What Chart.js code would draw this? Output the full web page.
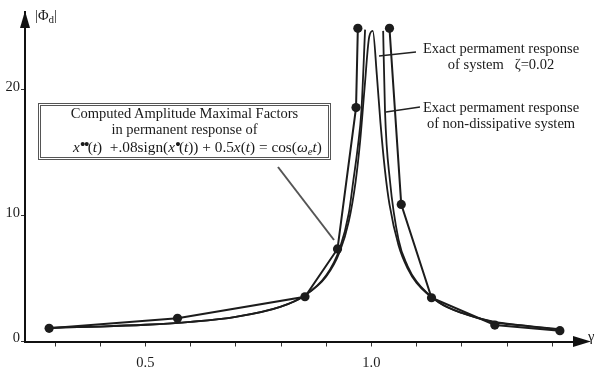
<!DOCTYPE html>
<html lang="en">
<head>
<meta charset="UTF-8">
<script src="https://cdn.jsdelivr.net/npm/chart.js"></script>
<style>
  body { margin: 0; background: #fff; }
  #wrap { position: relative; width: 596px; height: 367px; font-family: "Liberation Serif", "Times New Roman", serif; color: #1a1a1a; }
  #chart { position: absolute; left: 0; top: 0; }
  .note { position: absolute; font-size: 14.5px; line-height: 16px; white-space: nowrap; text-align: center; }
  #box { position: absolute; left: 38px; top: 103px; width: 287px; height: 51px; border: 3px double #555; }
  .dots { font-size: 17px; vertical-align: 2px; line-height: 0; letter-spacing: -2px; }
  sub { font-size: 11px; vertical-align: -3px; line-height: 0; }
</style>
</head>
<body>
<div id="wrap">
  <canvas id="chart" width="596" height="367"></canvas>
  <div id="box"></div>
  <div class="note" style="left:38px; top:105px; width:293px;">Computed Amplitude Maximal Factors<br>in permanent response of</div>
  <div class="note" style="left:73px; top:139px; font-size:15.3px;"><i>x</i><span class="dots">••</span>(<i>t</i>)&nbsp; +.08sign(<i>x</i><span class="dots">•</span>(<i>t</i>)) + 0.5<i>x</i>(<i>t</i>) = cos(<i>ω<sub>e</sub>t</i>)</div>
  <div class="note" style="left:421px; top:40px; width:160px;">Exact permament response<br>of system&nbsp;&nbsp; ζ=0.02</div>
  <div class="note" style="left:421px; top:99px; width:160px;">Exact permament response<br>of non-dissipative system</div>
  <div class="note" style="left:35px; top:7px;">|Φ<sub>d</sub>|</div>
  <div class="note" style="left:588px; top:328px;">γ</div>
</div>
<script>
// computed amplitude maximal factors (dots)
const gammaComputed = [0.287, 0.571, 0.853, 0.925, 0.966, 0.970, 1.040, 1.066, 1.133, 1.273, 1.417];
const ampComputed   = [1.05, 1.84, 3.56, 7.36, 18.6, 24.9, 24.9, 10.9, 3.48, 1.31, 0.86];
const computedBreak = 6; // no line drawn between the two top dots

// exact permanent response, zeta = 0.02
const gammaDamped = [0.287, 0.40, 0.50, 0.60, 0.70, 0.80, 0.85, 0.90, 0.93, 0.95, 0.965, 0.975, 0.985, 0.995, 1.003, 1.012, 1.02, 1.03, 1.04, 1.06, 1.08, 1.10, 1.15, 1.20, 1.27, 1.33, 1.417];
const ampDamped   = [1.09, 1.19, 1.33, 1.56, 1.96, 2.77, 3.60, 5.17, 7.14, 9.56, 12.7, 15.9, 20.2, 24.2, 24.7, 21.2, 17.4, 13.6, 10.9, 7.65, 5.81, 4.66, 3.09, 2.27, 1.55, 1.28, 0.95];

// exact permanent response, non-dissipative (two branches)
const gammaUndampedLeft = [0.287, 0.40, 0.50, 0.60, 0.70, 0.80, 0.85, 0.90, 0.93, 0.95, 0.96, 0.97, 0.978, 0.986];
const ampUndampedLeft   = [1.09, 1.19, 1.33, 1.56, 1.96, 2.78, 3.60, 5.26, 7.40, 10.2, 12.8, 15.5, 18.4, 24.8];
const gammaUndampedRight = [1.026, 1.030, 1.041, 1.06, 1.08, 1.10, 1.15, 1.20, 1.27, 1.33, 1.417];
const ampUndampedRight   = [24.7, 18.4, 12.8, 8.1, 6.0, 4.76, 3.10, 2.27, 1.58, 1.30, 0.97];

// axes
const xTickValues = [0.3, 0.4, 0.5, 0.6, 0.7, 0.8, 0.9, 1.0, 1.1, 1.2, 1.3, 1.4];
const xTickLabels = ['', '', '0.5', '', '', '', '', '1.0', '', '', '', ''];
const yTickValues = [0, 10, 20];
const yTickLabels = ['0', '10', '20'];

const pts = (xs, ys) => xs.map((x, i) => ({ x: x, y: ys[i] }));
const ink = '#1c1c1c';
const font = { family: '"Liberation Serif", "Times New Roman", serif', size: 14.5 };

const lineSet = (data, extra) => Object.assign({
  data: data, showLine: true, borderColor: ink, borderWidth: 1.8,
  pointRadius: 0, cubicInterpolationMode: 'monotone', clip: false
}, extra);

const dotSet = data => lineSet(data, {
  pointRadius: 4.6, pointBackgroundColor: ink, pointBorderWidth: 0,
  cubicInterpolationMode: 'default', tension: 0, borderWidth: 2
});

const extras = {
  id: 'extras',
  afterDraw(chart) {
    const ctx = chart.ctx, a = chart.chartArea;
    ctx.save();
    ctx.fillStyle = '#111';
    ctx.strokeStyle = '#111';
    // y arrowhead
    ctx.beginPath();
    ctx.moveTo(a.left, 11); ctx.lineTo(a.left - 5, 28); ctx.lineTo(a.left + 5, 28);
    ctx.closePath(); ctx.fill();
    // x arrowhead
    ctx.lineWidth = 2;
    ctx.beginPath(); ctx.moveTo(a.right - 2, a.bottom); ctx.lineTo(576, a.bottom); ctx.stroke();
    ctx.beginPath();
    ctx.moveTo(591, a.bottom); ctx.lineTo(573, a.bottom - 5.5); ctx.lineTo(573, a.bottom + 5.5);
    ctx.closePath(); ctx.fill();
    // leader lines
    ctx.strokeStyle = '#555';
    ctx.lineWidth = 2;
    ctx.beginPath(); ctx.moveTo(278, 167); ctx.lineTo(334, 240); ctx.stroke();
    ctx.strokeStyle = '#222';
    ctx.lineWidth = 1.5;
    ctx.beginPath(); ctx.moveTo(416, 52); ctx.lineTo(379, 56); ctx.stroke();
    ctx.beginPath(); ctx.moveTo(420, 107); ctx.lineTo(386, 112); ctx.stroke();
    ctx.restore();
  }
};

new Chart(document.getElementById('chart'), {
  type: 'scatter',
  data: {
    datasets: [
      lineSet(pts(gammaUndampedLeft, ampUndampedLeft)),
      lineSet(pts(gammaUndampedRight, ampUndampedRight)),
      lineSet(pts(gammaDamped, ampDamped)),
      dotSet(pts(gammaComputed.slice(0, computedBreak), ampComputed.slice(0, computedBreak))),
      dotSet(pts(gammaComputed.slice(computedBreak), ampComputed.slice(computedBreak)))
    ]
  },
  options: {
    responsive: false,
    animation: false,
    devicePixelRatio: 1,
    layout: { padding: { left: 0, top: 12, right: 16, bottom: 0 } },
    plugins: { legend: { display: false }, tooltip: { enabled: false } },
    scales: {
      x: {
        type: 'linear', min: 0.2336, max: 1.4615,
        afterBuildTicks: s => { s.ticks = xTickValues.map(v => ({ value: v })); },
        afterFit: s => { s.height = 25.5; },
        ticks: {
          autoSkip: false, maxRotation: 0, padding: 8, color: ink, font: font,
          callback: (v, i) => xTickLabels[i]
        },
        grid: { drawOnChartArea: false, drawTicks: true, tickLength: 5, color: '#333', lineWidth: 1 },
        border: { display: true, color: '#111', width: 2 }
      },
      y: {
        type: 'linear', min: 0, max: 26.2,
        afterBuildTicks: s => { s.ticks = yTickValues.map(v => ({ value: v })); },
        afterFit: s => { s.width = 25; },
        ticks: {
          autoSkip: false, padding: 1, color: ink, font: font, labelOffset: -3,
          callback: (v, i) => yTickLabels[i]
        },
        grid: { drawOnChartArea: false, drawTicks: true, tickLength: 4, color: '#333', lineWidth: 1 },
        border: { display: true, color: '#111', width: 2 }
      }
    }
  },
  plugins: [extras]
});
</script>
</body>
</html>
